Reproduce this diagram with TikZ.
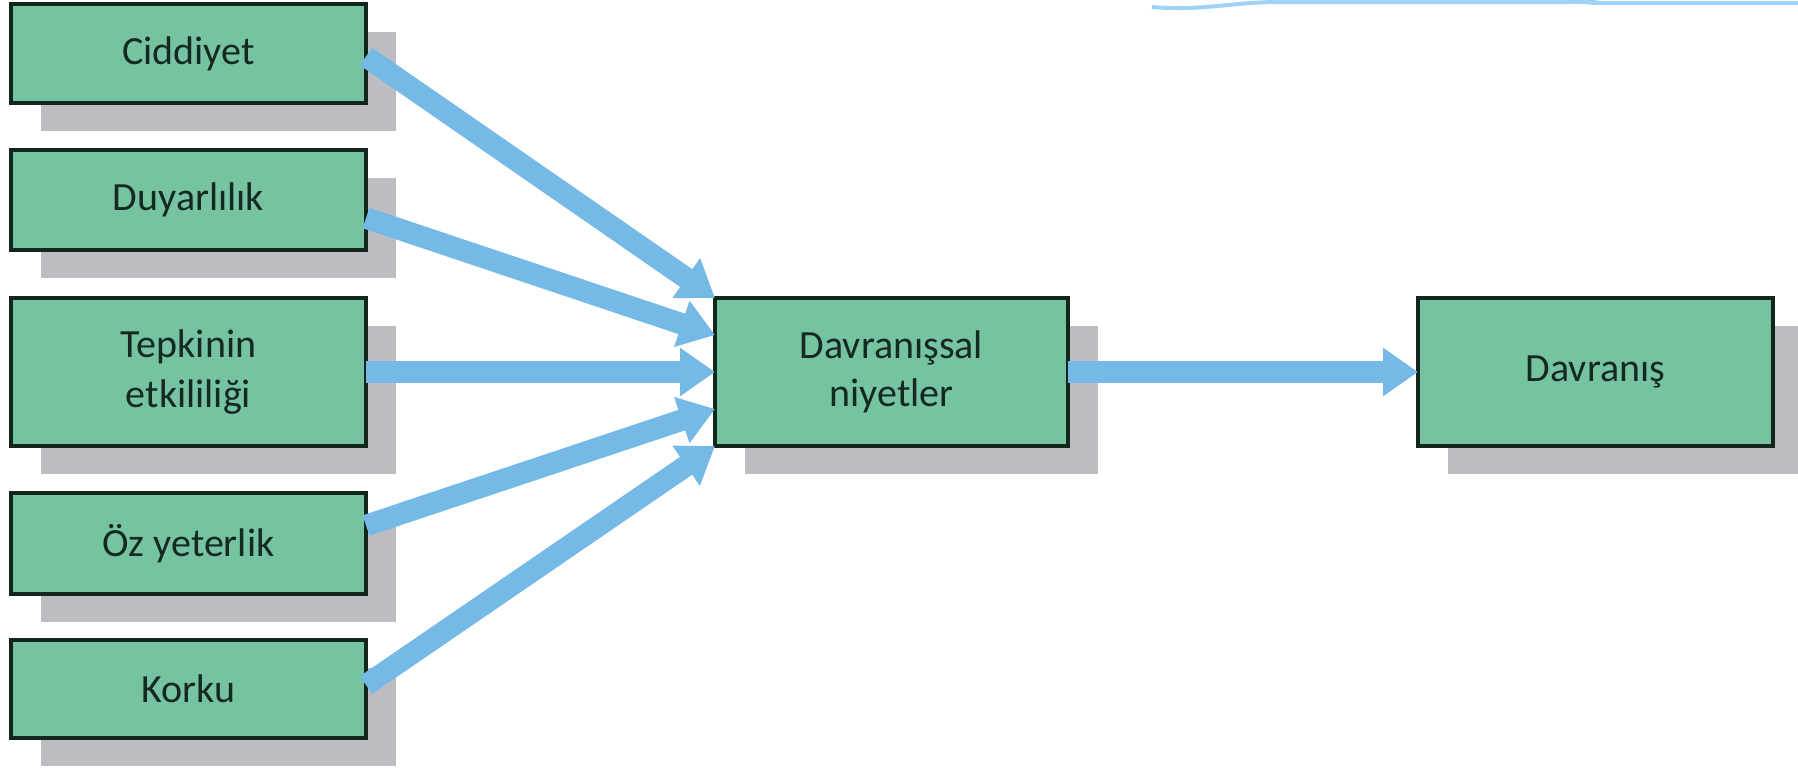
\documentclass[tikz,border=0pt]{standalone}
\usepackage{fontspec}
\setmainfont{Carlito}
\usetikzlibrary{arrows.meta,shadows,calc}
\definecolor{boxfill}{HTML}{76C3A1}
\definecolor{boxline}{HTML}{13261C}
\definecolor{boxtext}{HTML}{14291F}
\definecolor{shgray}{HTML}{BDBDC1}
\definecolor{arrowblue}{HTML}{75B9E6}
\definecolor{topblue}{HTML}{9FD3F5}
\tikzset{
  box/.style={rectangle, draw=boxline, line width=1.3pt, fill=boxfill,
    text=boxtext, inner sep=0pt, outer sep=0pt, align=center,
    font=\fontsize{16}{20}\selectfont,
    drop shadow={shadow xshift=12pt, shadow yshift=-11.2pt, fill=shgray, opacity=1, draw=none}},
  leftbox/.style={box, minimum width=142pt},
  flow/.style={draw=arrowblue, line width=8.6pt,
    -{Triangle[width=18.5pt,length=14pt,fill=arrowblue]}}
}
\begin{document}
\begin{tikzpicture}[x=0.4pt,y=-0.4pt]
\useasboundingbox (0,0) rectangle (1798,768);
\fill[white] (0,0) rectangle (1798,768);
% faint remnant of a cut-off frame at the top right
\draw[topblue, line width=1.6pt] (1152,7) to[out=-5,in=180] (1280,2) -- (1572,2) to[out=0,in=200] (1600,-3);
\draw[topblue, line width=1.6pt] (1566,-3) to[out=-20,in=180] (1600,3) -- (1798,3);

\node[leftbox, minimum height=39.6pt] (c1) at (188.5,53.5) {Ciddiyet};
\node[leftbox, minimum height=40pt]   (c2) at (188.5,200) {Duyarlılık};
\node[leftbox, minimum height=59.2pt] (c3) at (188.5,372) {Tepkinin\\etkililiği};
\node[leftbox, minimum height=40.4pt] (c4) at (188.5,543.5) {Öz yeterlik};
\node[leftbox, minimum height=39.2pt] (c5) at (188.5,689) {Korku};

\node[box, minimum width=141.2pt, minimum height=59.2pt, font=\fontsize{16}{19}\selectfont] (dn) at (891.5,372) {Davranışsal\\niyetler};
\node[box, minimum width=142pt, minimum height=59.2pt] (dv) at (1595.5,372) {Davranış};

\draw[flow] ($(c1.east)+(0,3)$) -- (dn.north west);
\draw[flow] ($(c2.east)+(0,18)$) -- ($(dn.north west)!0.25!(dn.south west)$);
\draw[flow] (c3.east) -- (dn.west);
\draw[flow] ($(c4.east)+(0,-18)$) -- ($(dn.north west)!0.75!(dn.south west)$);
\draw[flow] ($(c5.east)+(0,-4)$) -- (dn.south west);
\draw[flow] (dn.east) -- (dv.west);
\end{tikzpicture}
\end{document}
